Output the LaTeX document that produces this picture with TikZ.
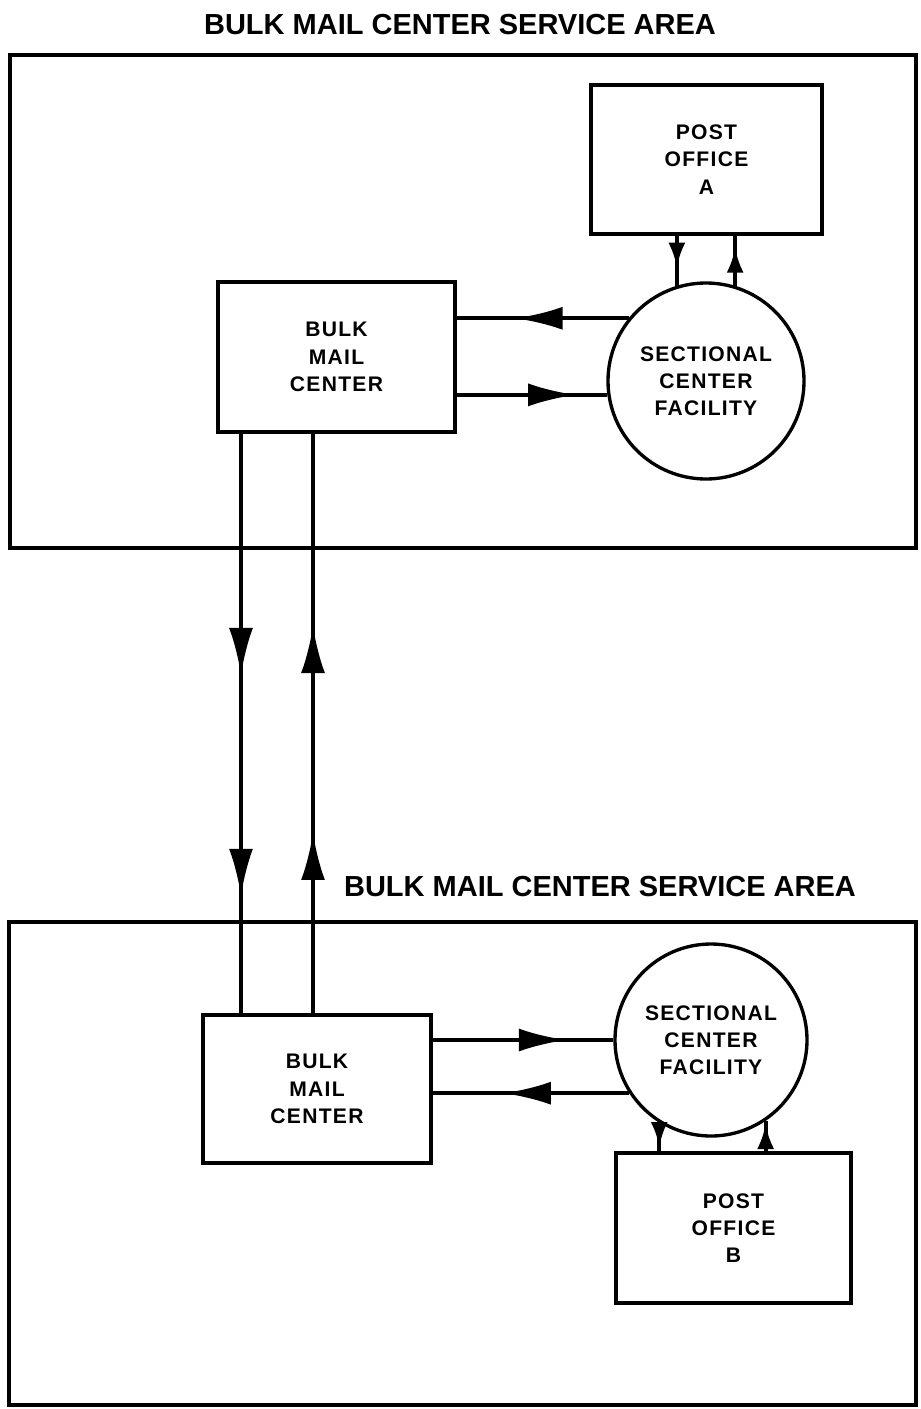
\documentclass[tikz,border=0pt]{standalone}
\usepackage{fontspec}
\setmainfont{Liberation Sans}
\newfontfamily\boxfont[LetterSpace=6]{Liberation Sans}
\usetikzlibrary{arrows.meta,decorations.markings}

\tikzset{
  area/.style={line width=2.6pt},
  areatitle/.style={font=\bfseries\fontsize{16.5}{20}\selectfont},
  office/.style={draw, line width=1.9pt, align=center, inner sep=0pt,
    font=\boxfont\bfseries\fontsize{12}{15.5}\selectfont},
  facility/.style={office, circle},
  flow/.style={line width=2.3pt},
  headat/.style={postaction={decorate}, decoration={markings,
    mark=at position #1 with {\arrow{Latex[length=9.5mm,width=4.6mm]}}}},
  twoheads/.style 2 args={postaction={decorate}, decoration={markings,
    mark=at position #1 with {\arrow{Latex[length=9.5mm,width=4.8mm]}},
    mark=at position #2 with {\arrow{Latex[length=9.5mm,width=4.8mm]}}}},
  smallhead/.style={postaction={decorate}, decoration={markings,
    mark=at position #1 with {\arrow{Latex[length=5mm,width=3.4mm]}}}},
}

\begin{document}
\begin{tikzpicture}[x=0.2mm,y=-0.2mm]
  \useasboundingbox (0,0) rectangle (920,1409);

  % upper service area
  \node[areatitle] (titleA) at (460,25) {BULK MAIL CENTER SERVICE AREA};
  \draw[area] (10,55) rectangle (916,548);
  \node[office, minimum width=4.62cm, minimum height=2.98cm] (poA) at (706.5,159.5) {POST\\OFFICE\\A};
  \node[office, minimum width=4.74cm, minimum height=3cm] (bmcA) at (336.5,357) {BULK\\MAIL\\CENTER};
  \node[facility, minimum size=3.92cm] (scfA) at (706,381) {SECTIONAL\\CENTER\\FACILITY};
  \draw[flow, headat=0.66] (scfA.141) -- (scfA.141 -| bmcA.east);
  \draw[flow, headat=0.79] (scfA.188 -| bmcA.east) -- (scfA.188);
  \draw[flow, smallhead=0.64] (scfA.107 |- poA.south) -- (scfA.107);
  \draw[flow, smallhead=0.76] (scfA.73) -- (scfA.73 |- poA.south);

  % lower service area
  \node[areatitle] (titleB) at (600,887) {BULK MAIL CENTER SERVICE AREA};
  \draw[area] (9,922) rectangle (916,1405);
  \node[office, minimum width=4.56cm, minimum height=2.96cm] (bmcB) at (317,1089) {BULK\\MAIL\\CENTER};
  \node[facility, minimum size=3.84cm] (scfB) at (711,1040) {SECTIONAL\\CENTER\\FACILITY};
  \node[office, minimum width=4.7cm, minimum height=3cm] (poB) at (733.5,1228) {POST\\OFFICE\\B};
  \draw[flow, headat=0.74] (scfB.west -| bmcB.east) -- (scfB.west);
  \draw[flow, headat=0.64] (scfB.213) -- (scfB.213 -| bmcB.east);
  \draw[flow, smallhead=0.85] (scfB.238) -- (scfB.238 |- poB.north);
  \draw[flow, smallhead=0.9] (scfB.304 |- poB.north) -- (scfB.304);

  % between the two areas
  \coordinate (downL) at (241,0);
  \coordinate (upL) at (313,0);
  \draw[flow, twoheads={0.417}{0.798}] (bmcA.south -| downL) -- (bmcB.north -| downL);
  \draw[flow, twoheads={0.312}{0.669}] (bmcB.north -| upL) -- (bmcA.south -| upL);
\end{tikzpicture}
\end{document}
